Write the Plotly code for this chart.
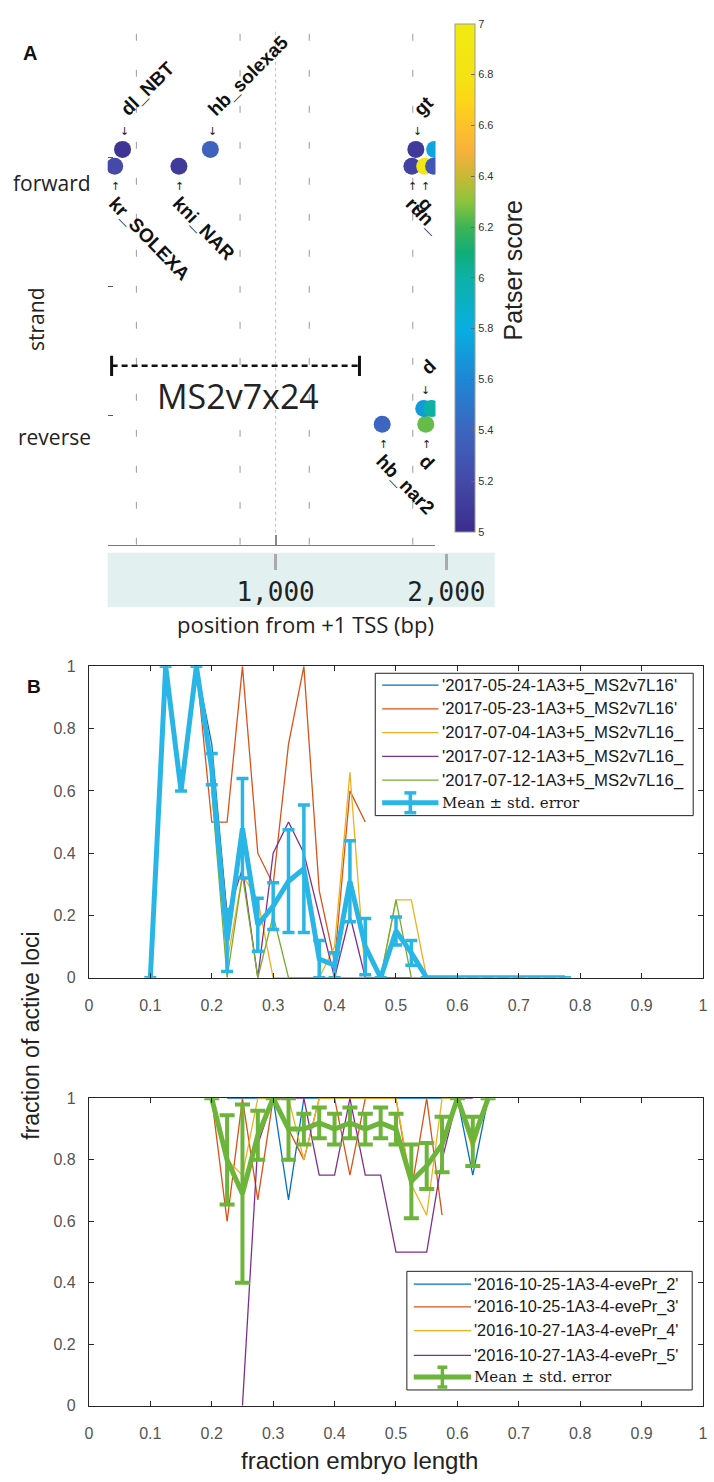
import plotly.graph_objects as go

W, H = 714, 1482


def px(x):
    return x / W


def py(y):
    return 1 - y / H


# ---------------- Panel A data ----------------
site_names = ["kr_SOLEXA", "dl_NBT", "kni_NAR", "hb_solexa5", "gt", "", "run_", "g", "",
              "hb_nar2", "d", "d", ""]
site_pos_bp = [58, 104, 434, 618, 1821, 1931, 1798, 1873, 1925, 1624, 1879, 1867, 1913]
site_track = [2.935, 3.065, 2.935, 3.065, 3.065, 3.065, 2.935, 2.935, 2.935,
              0.935, 0.935, 1.057, 1.057]
site_score = [5.2, 5.05, 5.1, 5.38, 5.1, 5.75, 5.15, 6.95, 5.3, 5.4, 6.25, 5.7, 6.0]

strand_names = ["forward", "reverse"]
enhancer_marks_bp = [185, 792, 1197, 1803]
tss_mark_bp = [1000]
construct_name = "MS2v7x24"
construct_span_bp = [40, 1491]
construct_level = [1.387]
bp_ticks = [1000, 2000]
bp_ticktext = ["1,000", "2,000"]
score_ticks = [5, 5.2, 5.4, 5.6, 5.8, 6, 6.2, 6.4, 6.6, 6.8, 7]
score_ticktext = ["5", "5.2", "5.4", "5.6", "5.8", "6", "6.2", "6.4", "6.6", "6.8", "7"]

score_colorscale = [
    [0.0, "#3b2d8c"], [0.1, "#4549a8"], [0.2, "#3c66bf"], [0.3, "#1e86d5"],
    [0.4, "#08aee2"], [0.5, "#0db1a6"], [0.55, "#10ae78"], [0.6, "#3db455"],
    [0.65, "#8cc43c"], [0.7, "#c8b936"], [0.75, "#f8b13c"], [0.8, "#fdc22a"],
    [0.85, "#fcd618"], [0.9, "#f4e314"], [1.0, "#f0ea10"],
]

# ---------------- Panel B data ----------------
x_top = [0.1, 0.125, 0.15, 0.175, 0.2, 0.225, 0.25, 0.275, 0.3, 0.325, 0.35, 0.375, 0.4,
         0.425, 0.45, 0.475, 0.5, 0.525, 0.55, 0.575, 0.6, 0.625, 0.65, 0.675, 0.7,
         0.725, 0.75, 0.775]
top_names = ["'2017-05-24-1A3+5_MS2v7L16'", "'2017-05-23-1A3+5_MS2v7L16'",
             "'2017-07-04-1A3+5_MS2v7L16_", "'2017-07-12-1A3+5_MS2v7L16_",
             "'2017-07-12-1A3+5_MS2v7L16_"]
N = None
top_s1 = [0, 1, 0.6, 1, 0.75, 0.2, N, N, N, N, N, N, N, N, N, N, N, N, N, N, N, N, N, N, N, N, N, N]
top_s2 = [N, N, N, 1, 0.5, 0.5, 1, 0.4, 0.3, 0.75, 1, 0.28, 0.05, 0.6, 0.5,
          N, N, N, N, N, N, N, N, N, N, N, N, N]
top_s3 = [N, N, N, N, 0.72, 0.05, 0.33, 0.25, 0, 0, 0, 0, 0.1, 0.66, 0, 0, 0.25, 0.25, 0,
          0, 0, N, N, N, N, N, N, N]
top_s4 = [N, N, N, N, 0.7, 0.2, 0.35, 0, 0.4, 0.5, 0.4, 0.2, 0, 0.2, 0, 0, 0, 0,
          N, N, N, N, N, N, N, N, N, N]
top_s5 = [N, N, N, N, 0.6, 0, 0.33, 0, 0.2, 0, 0, 0, 0, 0, 0, 0, 0.25, 0, 0, 0, 0,
          N, N, N, N, N, N, N]
top_mean = [0, 1, 0.6, 1, 0.67, 0.12, 0.48, 0.17, 0.23, 0.31, 0.35, 0.06, 0.04, 0.31, 0.1,
            0, 0.15, 0.08, 0, 0, 0, 0, 0, 0, 0, 0, 0, 0]
top_err = [0, 0, 0, 0, 0.05, 0.1, 0.16, 0.085, 0.075, 0.165, 0.205, 0.06, 0.04, 0.13, 0.09,
           0, 0.045, 0.04, 0, 0, 0, 0, 0, 0, 0, 0, 0, 0]

x_bot = [0.2, 0.225, 0.25, 0.275, 0.3, 0.325, 0.35, 0.375, 0.4, 0.425, 0.45, 0.475, 0.5,
         0.525, 0.55, 0.575, 0.6, 0.625, 0.65]
bot_names = ["'2016-10-25-1A3-4-evePr_2'", "'2016-10-25-1A3-4-evePr_3'",
             "'2016-10-27-1A3-4-evePr_4'", "'2016-10-27-1A3-4-evePr_5'"]
bot_s1 = [N, 1, 1, 1, 1, 0.67, 1, 1, 1, 1, 1, 1, 1, 1, 1, 1, 1, 0.75, 1]
bot_s2 = [1, 0.6, 1, 0.67, 1, 0.9, 0.8, 1, 1, 0.75, 1, 1, 1, 0.7, 1, 0.62, N, N, N]
bot_s3 = [1, 0.8, 0.75, 1, 1, 1, 0.8, 1, 1, 1, 1, 1, 1, 0.72, 0.62, 1, 1, 0.83, 1]
bot_s4 = [N, N, 0, 0.85, 1, 1, 1, 0.75, 0.75, 1, 0.75, 0.75, 0.5, 0.5, 0.5, 0.8, 1, 1, N]
bot_mean = [1, 0.8, 0.69, 0.88, 1, 0.9, 0.9, 0.92, 0.9, 0.92, 0.9, 0.92, 0.9, 0.73, 0.78,
            0.85, 1, 0.86, 1]
bot_err = [0, 0.145, 0.29, 0.08, 0, 0.1, 0.05, 0.05, 0.05, 0.05, 0.05, 0.05, 0.05, 0.12,
           0.075, 0.09, 0, 0.08, 0]

mean_label = "Mean \u00b1 std. error"
frac_ticks = [0, 0.1, 0.2, 0.3, 0.4, 0.5, 0.6, 0.7, 0.8, 0.9, 1]
frac_ticktext = ["0", "0.1", "0.2", "0.3", "0.4", "0.5", "0.6", "0.7", "0.8", "0.9", "1"]
loci_ticks = [0, 0.2, 0.4, 0.6, 0.8, 1]
loci_ticktext = ["0", "0.2", "0.4", "0.6", "0.8", "1"]

series_colors = ["#0072BD", "#D95319", "#EDB120", "#7E2F8E", "#77AC30"]
top_mean_color = "#29b6e6"
bot_mean_color = "#6cb43a"

SANS = "Liberation Sans, Arial, sans-serif"
MYR = "Open Sans, sans-serif"

fig = go.Figure()

# ---------------- Panel A traces ----------------
fig.add_trace(go.Scatter(
    x=site_pos_bp, y=site_track, mode="markers", xaxis="x", yaxis="y",
    marker=dict(size=17, color=site_score, colorscale=score_colorscale, cmin=5, cmax=7,
                line=dict(width=0), showscale=True,
                colorbar=dict(
                    x=px(457), xanchor="left", xpad=0, y=py(16), yanchor="top", ypad=0,
                    len=(530 - 16) / H, lenmode="fraction", thickness=20,
                    thicknessmode="pixels", outlinecolor="#9a9a9a", outlinewidth=1,
                    ticks="inside", ticklen=4, tickcolor="#666",
                    tickvals=score_ticks, ticktext=score_ticktext,
                    tickfont=dict(family=SANS, size=11, color="#333"),
                )),
    showlegend=False, hoverinfo="skip"))
# invisible trace carrying the band axis
fig.add_trace(go.Scatter(x=[None], y=[None], xaxis="x2", yaxis="y", mode="markers",
                         showlegend=False, hoverinfo="skip"))

# ---------------- Panel B traces ----------------
for ys, nm, col in zip([top_s1, top_s2, top_s3, top_s4, top_s5], top_names, series_colors):
    fig.add_trace(go.Scatter(x=x_top, y=ys, name=nm, mode="lines", xaxis="x3", yaxis="y3",
                             line=dict(color=col, width=1.3), cliponaxis=False,
                             showlegend=False))
fig.add_trace(go.Scatter(x=x_top, y=top_mean, name=mean_label, mode="lines", xaxis="x3",
                         yaxis="y3", line=dict(color=top_mean_color, width=5),
                         error_y=dict(type="data", array=top_err, color=top_mean_color,
                                      thickness=3.5, width=6),
                         cliponaxis=False, showlegend=False))

for ys, nm, col in zip([bot_s1, bot_s2, bot_s3, bot_s4], bot_names, series_colors):
    fig.add_trace(go.Scatter(x=x_bot, y=ys, name=nm, mode="lines", xaxis="x4", yaxis="y4",
                             line=dict(color=col, width=1.3), cliponaxis=False,
                             showlegend=False))
fig.add_trace(go.Scatter(x=x_bot, y=bot_mean, name=mean_label, mode="lines", xaxis="x4",
                         yaxis="y4", line=dict(color=bot_mean_color, width=5),
                         error_y=dict(type="data", array=bot_err, color=bot_mean_color,
                                      thickness=4, width=7.5),
                         cliponaxis=False, showlegend=False))

shapes = []
annotations = []

# ---------------- Panel A decorations ----------------
shapes.append(dict(type="rect", xref="paper", yref="paper", x0=px(105), x1=px(497),
                   y0=py(606), y1=py(551), fillcolor="#e3f0f0", line=dict(width=0),
                   layer="below"))
for b in enhancer_marks_bp:
    shapes.append(dict(type="line", xref="x", yref="y", x0=b, x1=b, y0=0, y1=3.97,
                       line=dict(color="#9a9a9a", width=1, dash="7px,29px"), layer="below"))
for b in tss_mark_bp:
    shapes.append(dict(type="line", xref="x", yref="y", x0=b, x1=b, y0=0, y1=4,
                       line=dict(color="#bdbdbd", width=1, dash="dot"), layer="below"))
# construct bar
c0, c1 = construct_span_bp
cy = construct_level[0]
shapes.append(dict(type="line", xref="x", yref="y", x0=c0, x1=c1, y0=cy, y1=cy,
                   line=dict(color="#111", width=2.5, dash="6px,4px")))
for cx in construct_span_bp:
    shapes.append(dict(type="line", xref="x", yref="y", x0=cx, x1=cx, y0=cy - 0.078,
                       y1=cy + 0.078, line=dict(color="#111", width=3)))
annotations.append(dict(text=construct_name, xref="paper", yref="paper", x=px(237),
                        y=py(393), showarrow=False, xanchor="center", yanchor="middle",
                        font=dict(family=MYR, size=34, color="#222")))

# site labels and arrows
for name, b, t in zip(site_names, site_pos_bp, site_track):
    if not name:
        continue
    up = (t % 1) < 0.5
    if up:
        annotations.append(dict(text="<b>%s</b>" % name, xref="x", yref="y", x=b, y=t,
                                showarrow=False, textangle=-45, xanchor="left",
                                yanchor="bottom", xshift=-9, yshift=27,
                                font=dict(family=SANS, size=19, color="#111")))
        annotations.append(dict(text="\u2193", xref="x", yref="y", x=b, y=t,
                                showarrow=False, xanchor="center", yanchor="middle",
                                xshift=2, yshift=18,
                                font=dict(family="DejaVu Sans", size=11, color="#222")))
    else:
        annotations.append(dict(text="<b>%s</b>" % name, xref="x", yref="y", x=b, y=t,
                                showarrow=False, textangle=46, xanchor="left",
                                yanchor="top", xshift=-13, yshift=-24,
                                font=dict(family=SANS, size=19, color="#111")))
        annotations.append(dict(text="\u2191", xref="x", yref="y", x=b, y=t,
                                showarrow=False, xanchor="center", yanchor="middle",
                                xshift=1, yshift=-20,
                                font=dict(family="DejaVu Sans", size=11, color="#222")))

annotations += [
    dict(text="<b>A</b>", xref="paper", yref="paper", x=px(17), y=py(46), showarrow=False,
         xanchor="left", yanchor="middle", font=dict(family=SANS, size=20, color="#111")),
    dict(text=strand_names[0], xref="paper", yref="paper", x=px(90), y=py(177),
         showarrow=False, xanchor="right", yanchor="middle",
         font=dict(family=MYR, size=21, color="#222")),
    dict(text=strand_names[1], xref="paper", yref="paper", x=px(90), y=py(434),
         showarrow=False, xanchor="right", yanchor="middle",
         font=dict(family=MYR, size=21, color="#222")),
    dict(text="strand", xref="paper", yref="paper", x=px(33), y=py(315), showarrow=False,
         textangle=-90, xanchor="center", yanchor="middle",
         font=dict(family=MYR, size=21, color="#222")),
    dict(text="position from +1 TSS (bp)", xref="paper", yref="paper", x=px(305),
         y=py(623), showarrow=False, xanchor="center", yanchor="middle",
         font=dict(family=MYR, size=22, color="#222")),
    dict(text="Patser score", xref="paper", yref="paper", x=px(515), y=py(266),
         showarrow=False, textangle=-90, xanchor="center", yanchor="middle",
         font=dict(family=SANS, size=25, color="#222")),
    dict(text="<b>B</b>", xref="paper", yref="paper", x=px(21), y=py(686), showarrow=False,
         xanchor="left", yanchor="middle", font=dict(family=SANS, size=19, color="#111")),
    dict(text="fraction of active loci", xref="paper", yref="paper", x=px(27), y=py(1040),
         showarrow=False, textangle=-90, xanchor="center", yanchor="middle",
         font=dict(family=SANS, size=23, color="#222")),
    dict(text="fraction embryo length", xref="paper", yref="paper", x=px(360), y=py(1469),
         showarrow=False, xanchor="center", yanchor="middle",
         font=dict(family=SANS, size=24, color="#222")),
]


# ---------------- manual legends ----------------
def legend_block(box, rows, sx0, sx1, tx, names, colors, mean_color, fsize, capw):
    bx0, by0, bx1, by1 = box
    shapes.append(dict(type="rect", xref="paper", yref="paper", x0=px(bx0), x1=px(bx1),
                       y0=py(by1), y1=py(by0), line=dict(color="#222", width=1),
                       fillcolor="white"))
    for r, nm, col in zip(rows, names, colors):
        shapes.append(dict(type="line", xref="paper", yref="paper", x0=px(sx0), x1=px(sx1),
                           y0=py(r), y1=py(r), line=dict(color=col, width=1.3)))
        annotations.append(dict(text=nm, xref="paper", yref="paper", x=px(tx), y=py(r),
                                showarrow=False, xanchor="left", yanchor="middle",
                                font=dict(family=SANS, size=fsize, color="#1a1a1a")))
    r = rows[-1]
    cxm = (sx0 + sx1) / 2
    shapes.append(dict(type="line", xref="paper", yref="paper", x0=px(sx0), x1=px(sx1),
                       y0=py(r), y1=py(r), line=dict(color=mean_color, width=5)))
    shapes.append(dict(type="line", xref="paper", yref="paper", x0=px(cxm), x1=px(cxm),
                       y0=py(r - 10), y1=py(r + 10), line=dict(color=mean_color, width=3.5)))
    for dy in (-10, 10):
        shapes.append(dict(type="line", xref="paper", yref="paper", x0=px(cxm - capw),
                           x1=px(cxm + capw), y0=py(r + dy), y1=py(r + dy),
                           line=dict(color=mean_color, width=3.5)))
    annotations.append(dict(text=mean_label, xref="paper", yref="paper", x=px(tx), y=py(r),
                            showarrow=False, xanchor="left", yanchor="middle",
                            font=dict(family="DejaVu Serif, serif", size=15,
                                      color="#1a1a1a")))


legend_block((376, 673, 698, 817), [685, 709, 733, 757, 781, 804], 383, 440, 442,
             top_names, series_colors, top_mean_color, 16.7, 6)
legend_block((408, 1278, 697, 1398), [1291, 1314, 1338, 1363, 1385], 415, 473, 474,
             bot_names, series_colors[:4], bot_mean_color, 16.3, 5)

# ---------------- axes ----------------
frac_axis = dict(range=[0, 1], tickvals=frac_ticks, ticktext=frac_ticktext, ticks="inside",
                 ticklen=5, tickcolor="#262626", showline=True, linecolor="#262626",
                 linewidth=1, mirror="ticks", showgrid=False, zeroline=False,
                 tickfont=dict(family=SANS, size=16, color="#555"),
                 domain=[px(86), px(708)], ticklabelstandoff=13,
                 ticklabeloverflow="allow")
loci_axis = dict(range=[0, 1], tickvals=loci_ticks, ticktext=loci_ticktext, ticks="inside",
                 ticklen=5, tickcolor="#262626", showline=True, linecolor="#262626",
                 linewidth=1, mirror="ticks", showgrid=False, zeroline=False,
                 tickfont=dict(family=SANS, size=16, color="#555"), ticklabelstandoff=9,
                 ticklabeloverflow="allow")

fig.update_layout(
    width=W, height=H, autosize=False,
    margin=dict(l=0, r=0, t=0, b=0, pad=0),
    paper_bgcolor="white", plot_bgcolor="rgba(0,0,0,0)",
    showlegend=False,
    xaxis=dict(domain=[px(105), px(437)], range=[17, 1936], anchor="y", showline=True,
               linecolor="#777", linewidth=1.2, ticks="inside", tickvals=[1000],
               ticklen=10, tickcolor="#888", tickwidth=1.5, showticklabels=False,
               showgrid=False, zeroline=False),
    yaxis=dict(domain=[py(543), py(21)], range=[0, 4], anchor="x", showline=False,
               ticks="inside", tickvals=[1, 2, 3, 4], ticklen=5, tickcolor="#555",
               showticklabels=False, showgrid=False, zeroline=False),
    xaxis2=dict(domain=[px(105), px(497)], range=[17, 2283], anchor="free",
                position=py(551), side="bottom", showline=False, ticks="outside",
                tickvals=bp_ticks, ticktext=bp_ticktext, ticklen=16, tickcolor="#aaa",
                tickwidth=2.5, showgrid=False, zeroline=False, ticklabeloverflow="allow",
                tickfont=dict(family="DejaVu Sans Mono, monospace", size=26, color="#222")),
    xaxis3=dict(frac_axis, anchor="y3"),
    yaxis3=dict(loci_axis, domain=[py(981), py(666)], anchor="x3"),
    xaxis4=dict(frac_axis, anchor="y4"),
    yaxis4=dict(loci_axis, domain=[py(1414), py(1103)], anchor="x4"),
    shapes=shapes,
    annotations=annotations,
)

fig.write_html("out.html", config={"displayModeBar": False},
               post_script="document.body.style.margin='0px';"
                           "document.body.style.padding='0px';"
                           "document.body.style.overflow='hidden';"
                           "document.documentElement.style.overflow='hidden';")
